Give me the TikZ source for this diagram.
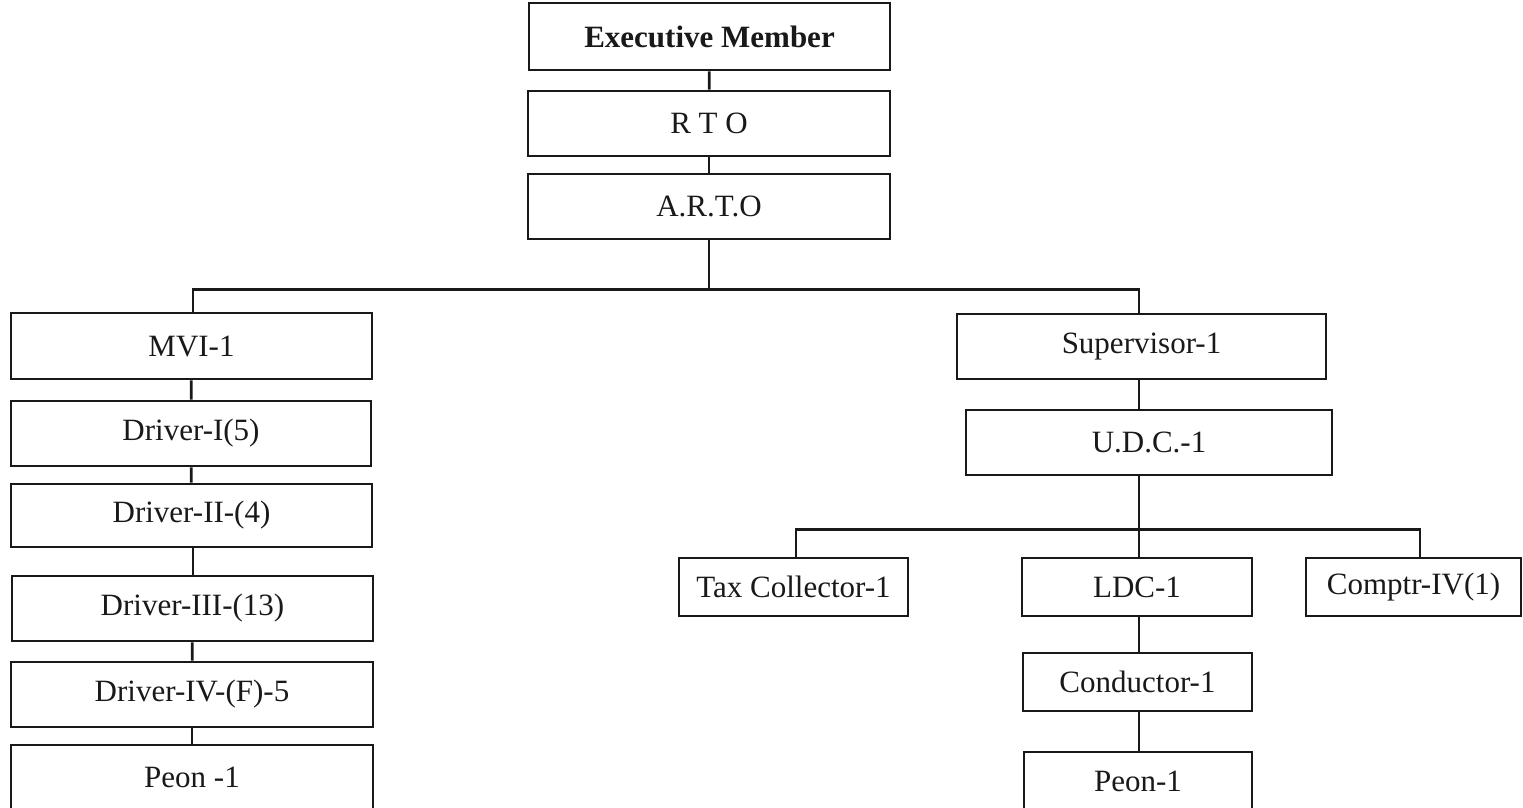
\documentclass[tikz,border=0pt]{standalone}
\usepackage{fontspec}
\setmainfont{Liberation Serif}
\begin{document}
\begin{tikzpicture}[x=1pt,y=-1pt,
  box/.style={draw=black!90, line width=2.8pt, fill=white, inner sep=0pt,
              font=\fontsize{31}{36}\selectfont, text=black!90},
  link/.style={draw=black!90, line width=2.8pt}]
\useasboundingbox (0,0) rectangle (1523,808);

% top chain
\node[box, minimum width=361, minimum height=67, font=\fontsize{31}{36}\selectfont\bfseries] (exec) at (709.5,36.5) {Executive Member};
\node[box, minimum width=362, minimum height=65] (rto)  at (709,123.5) {R T O};
\node[box, minimum width=362, minimum height=65] (arto) at (709,206.5) {A.R.T.O};

% left column
\node[box, minimum width=361, minimum height=66] (mvi)   at (191.5,346)   {MVI-1};
\node[box, minimum width=360, minimum height=65] (drv1)  at (191,433.5)   {Driver-I(5)};
\node[box, minimum width=361, minimum height=63] (drv2)  at (191.5,515.5) {Driver-II-(4)};
\node[box, minimum width=361, minimum height=65] (drv3)  at (192.5,608.5) {Driver-III-(13)};
\node[box, minimum width=362, minimum height=65] (drv4)  at (192,694.5)   {Driver-IV-(F)-5};
\node[box, minimum width=362, minimum height=65] (peonL) at (192,777.5)   {Peon -1};

% right branch
\node[box, minimum width=369, minimum height=65] (sup)  at (1141.5,346.5) {Supervisor-1};
\node[box, minimum width=366, minimum height=65] (udc)  at (1149,442.5)   {U.D.C.-1};
\node[box, minimum width=229, minimum height=58] (tax)  at (793.5,587)    {Tax Collector-1};
\node[box, minimum width=230, minimum height=58] (ldc)  at (1137,587)     {LDC-1};
\node[box, minimum width=215, minimum height=58] (comp) at (1413.5,587)   {Comptr-IV(1)};
\node[box, minimum width=229, minimum height=58] (cond) at (1137.5,682)   {Conductor-1};
\node[box, minimum width=228, minimum height=58] (peonR) at (1138,781)    {Peon-1};

% connectors
\draw[link] (exec) -- (rto);
\draw[link] (rto) -- (arto);
\path (arto.south) ++(0,49) coordinate (hub);
\draw[link] (arto.south) -- (hub);
\draw[link, line join=miter] ([xshift=1.5pt]mvi.north) |- (hub) -| ([xshift=-2.5pt]sup.north);

\draw[link] (mvi) -- (drv1);
\draw[link] (drv1) -- (drv2);
\draw[link] ([xshift=1.5pt]drv2.south) -- ([xshift=0.5pt]drv3.north);
\draw[link] (drv3) -- (drv4);
\draw[link] (drv4) -- (peonL);

\draw[link] ([xshift=-2.5pt]sup.south) -- ([xshift=-2.5pt]sup.south |- udc.north);
\path ([xshift=2pt]ldc.north) ++(0,-27) coordinate (hub2);
\draw[link] ([xshift=2pt]ldc.north |- udc.south) -- ([xshift=2pt]ldc.north);
\draw[link, line join=miter] ([xshift=2.5pt]tax.north) |- (hub2) -| ([xshift=6.5pt]comp.north);
\draw[link] ([xshift=2pt]ldc.south) -- ([xshift=1.5pt]cond.north);
\draw[link] ([xshift=1.5pt]cond.south) -- ([xshift=1pt]peonR.north);
\end{tikzpicture}
\end{document}
